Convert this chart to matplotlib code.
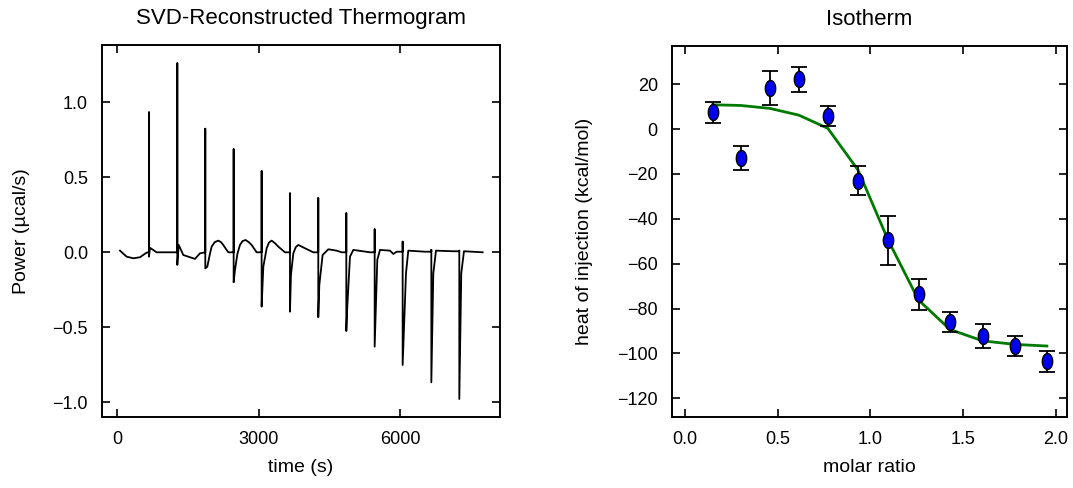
import numpy as np
import matplotlib
matplotlib.use("Agg")
import matplotlib.pyplot as plt
from matplotlib.path import Path

plt.rcParams['font.family'] = ['Liberation Sans', 'DejaVu Sans']

# ---------------- Thermogram (key points) ----------------
trace_time = [57, 198, 340, 481, 623,
              672, 672, 672, 694, 835, 1175,
              1274, 1274, 1274, 1302, 1401, 1543, 1649, 1755,
              1868, 1868, 1868, 1911, 1960, 2003, 2070, 2144, 2200, 2250, 2300, 2357,
              2470, 2470, 2470, 2498, 2550, 2604, 2660, 2725, 2790, 2852, 2958,
              3064, 3064, 3064, 3100, 3171, 3220, 3277, 3350, 3418, 3560,
              3666, 3666, 3666, 3687, 3737, 3790, 3843, 3984, 4161,
              4267, 4267, 4267, 4289, 4359, 4480, 4657, 4763,
              4862, 4862, 4862, 4883, 4940, 5011, 5364,
              5464, 5464, 5464, 5520, 5577, 5789, 5860, 5931,
              6058, 6058, 6058, 6129, 6178, 6532,
              6667, 6667, 6667, 6709, 6766, 7134,
              7261, 7261, 7261, 7303, 7360, 7757]
trace_power = [0.011, -0.029, -0.040, -0.033, -0.002,
               0.000, 0.933, -0.029, 0.030, 0.000, 0.000,
               0.000, 1.260, -0.084, 0.050, -0.018, -0.033, -0.044, -0.007,
               0.000, 0.824, -0.107, -0.096, -0.020, 0.038, 0.068, 0.078, 0.068, 0.049, 0.025, 0.000,
               0.000, 0.687, -0.200, -0.118, -0.010, 0.049, 0.075, 0.082, 0.068, 0.049, 0.000,
               0.000, 0.542, -0.362, -0.096, 0.027, 0.065, 0.078, 0.060, 0.038, 0.000,
               0.000, 0.393, -0.396, -0.151, -0.007, 0.035, 0.049, 0.027, 0.000,
               0.000, 0.362, -0.433, -0.218, -0.018, 0.020, 0.011, 0.000,
               0.000, 0.260, -0.525, -0.362, -0.029, 0.016, 0.000,
               0.000, 0.153, -0.629, -0.050, 0.016, 0.011, -0.011, 0.004,
               0.004, 0.071, -0.751, -0.140, 0.011, 0.004,
               0.004, 0.016, -0.867, -0.140, 0.011, 0.007,
               0.007, 0.011, -0.978, -0.140, 0.007, 0.000]

# ---------------- Isotherm ----------------
molar_ratio = [0.149, 0.300, 0.457, 0.613, 0.770, 0.933, 1.095, 1.259, 1.428, 1.604, 1.781, 1.951]
heat = [7.4, -12.8, 18.3, 22.1, 5.8, -23.0, -49.5, -73.6, -86.0, -92.3, -96.7, -103.4]
heat_err = [4.7, 5.3, 7.4, 5.6, 4.3, 6.5, 10.9, 6.9, 4.5, 5.3, 4.6, 4.7]
fit_heat = [10.8, 10.5, 9.2, 6.2, 0.3, -18.3, -49.5, -76.2, -89.3, -94.4, -96.0, -96.7]

fig = plt.figure(figsize=(10.73, 4.88), dpi=100)
W, H = 1073, 488

def style(ax):
    for s in ax.spines.values():
        s.set_linewidth(1.4)
        s.set_color('black')
    ax.tick_params(direction='in', length=6, width=1.2, top=True, right=True,
                   labelsize=13, pad=10, colors='black')

ax1 = fig.add_axes([102 / W, (H - 417) / H, 398 / W, 372 / H])
ax1.plot(trace_time, trace_power, color='black', lw=1.3)
ax1.set_xlim(-325, 8125)
ax1.set_ylim(-1.098, 1.382)
ax1.set_xticks([0, 3000, 6000])
ax1.set_yticks([-1.0, -0.5, 0.0, 0.5, 1.0])
ax1.set_yticklabels(['\u22121.0', '\u22120.5', '0.0', '0.5', '1.0'])
style(ax1)
ax1.set_title('SVD-Reconstructed Thermogram', fontsize=16, pad=15)
ax1.set_xlabel('time (s)', fontsize=14, labelpad=8)
ax1.set_ylabel('Power (\u00b5cal/s)', fontsize=14, labelpad=16)

ax2 = fig.add_axes([671.7 / W, (H - 416.7) / H, 395 / W, 370.7 / H])
ax2.plot(molar_ratio, fit_heat, color='#007a00', lw=2.0, zorder=2)
t = np.linspace(0, 2 * np.pi, 40)
ell = Path(np.column_stack([0.65 * np.cos(t), np.sin(t)]), closed=True)
ax2.errorbar(molar_ratio, heat, yerr=heat_err, fmt='none', ecolor='black',
             elinewidth=1.3, capsize=6, capthick=1.3, zorder=3)
ax2.plot(molar_ratio, heat, linestyle='none', marker=ell, markersize=11.5,
         markerfacecolor='#0000ee', markeredgecolor='black', markeredgewidth=1.0, zorder=4)
ax2.set_xlim(-0.072, 2.058)
ax2.set_ylim(-128.2, 37)
ax2.set_xticks([0.0, 0.5, 1.0, 1.5, 2.0])
ax2.set_yticks([-120, -100, -80, -60, -40, -20, 0, 20])
ax2.set_yticklabels(['\u2212120', '\u2212100', '\u221280', '\u221260', '\u221240', '\u221220', '0', '20'])
style(ax2)
ax2.set_title('Isotherm', fontsize=16, pad=15)
ax2.set_xlabel('molar ratio', fontsize=14, labelpad=8)
ax2.set_ylabel('heat of injection (kcal/mol)', fontsize=14, labelpad=17)

fig.savefig('out.png', dpi=100)
